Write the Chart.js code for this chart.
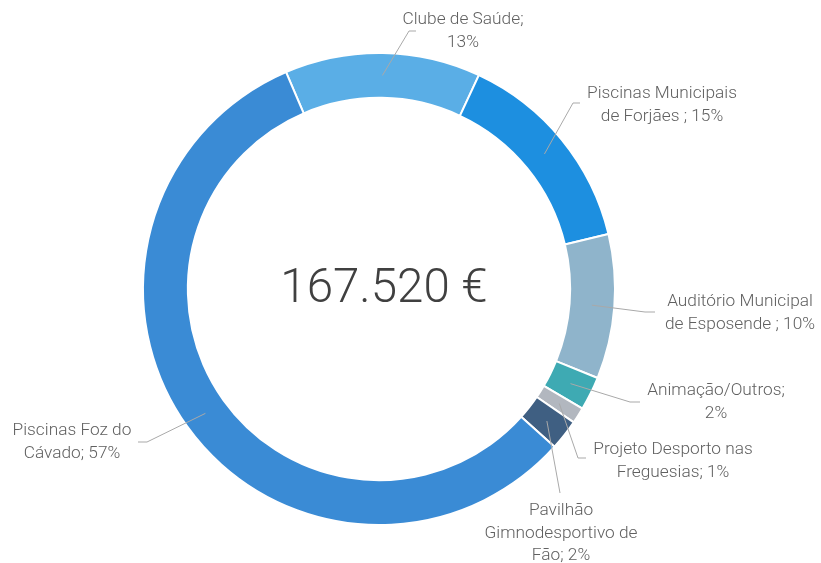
<!DOCTYPE html>
<html>
<head>
<meta charset="utf-8">
<script src="https://cdn.jsdelivr.net/npm/chart.js@4/dist/chart.umd.min.js"></script>
<style>
  html, body { margin: 0; padding: 0; background: #ffffff; }
  #wrap { width: 821px; height: 563px; }
</style>
</head>
<body>
<div id="wrap"><canvas id="c" width="821" height="563"></canvas></div>
<script>
// ---- data ----
const categories = [
  "Clube de Saúde",
  "Piscinas Municipais de Forjães",
  "Auditório Municipal de Esposende",
  "Animação/Outros",
  "Projeto Desporto nas Freguesias",
  "Pavilhão Gimnodesportivo de Fão",
  "Piscinas Foz do Cávado"
];
const values = [13.4, 14.3, 9.9, 2.3, 1.1, 2.1, 56.9];
const pctLabels = ["13%", "15%", "10%", "2%", "1%", "2%", "57%"];
const labelLines = [
  ["Clube de Saúde;", "13%"],
  ["Piscinas Municipais", "de Forjães ; 15%"],
  ["Auditório Municipal", "de Esposende ; 10%"],
  ["Animação/Outros;", "2%"],
  ["Projeto Desporto nas", "Freguesias; 1%"],
  ["Pavilhão", "Gimnodesportivo de", "Fão; 2%"],
  ["Piscinas Foz do", "Cávado; 57%"]
];
const totalLabel = "167.520 €";
const colors = ["#5aaee6", "#1d8fe0", "#8fb4cb", "#3eaab3", "#b2b7bf", "#3f5f82", "#3a8bd5"];

// ---- label layout (text centre of first line, elbow, end) ----
const labelLayout = [
  { tx: 463, ty: 20, elbow: [409, 31], end: [416, 31] },
  { tx: 662, ty: 94, elbow: [573, 103], end: [580, 103] },
  { tx: 740, ty: 302, elbow: [645, 312], end: [655, 312] },
  { tx: 716, ty: 391, elbow: [630, 402], end: [640, 402] },
  { tx: 673, ty: 450, elbow: [578, 458], end: [586, 458] },
  { tx: 561, ty: 511, elbow: [560, 493], end: [560, 493] },
  { tx: 72, ty: 431, elbow: [147, 442], end: [138, 442] }
];

const labelPlugin = {
  id: 'leaderLabels',
  afterDraw(chart) {
    const ctx = chart.ctx;
    const meta = chart.getDatasetMeta(0);
    ctx.save();
    meta.data.forEach((arc, i) => {
      const p = arc.tooltipPosition();
      const L = labelLayout[i];
      ctx.strokeStyle = '#a9a9a9';
      ctx.lineWidth = 1;
      ctx.beginPath();
      ctx.moveTo(p.x, p.y);
      ctx.lineTo(L.elbow[0], L.elbow[1]);
      ctx.lineTo(L.end[0], L.end[1]);
      ctx.stroke();
      ctx.fillStyle = '#606060';
      ctx.font = '300 17.3px Roboto, "Liberation Sans", sans-serif';
      ctx.textAlign = 'center';
      ctx.textBaseline = 'middle';
      labelLines[i].forEach((t, k) => ctx.fillText(t, L.tx, L.ty + k * 22.5));
    });
    const a0 = meta.data[0];
    ctx.fillStyle = '#404040';
    ctx.font = '300 47.5px Roboto, "Liberation Sans", sans-serif';
    ctx.textAlign = 'center';
    ctx.textBaseline = 'middle';
    ctx.fillText(totalLabel, a0.x + 5, a0.y + 1);
    ctx.restore();
  }
};

new Chart(document.getElementById('c'), {
  type: 'doughnut',
  data: {
    labels: categories,
    datasets: [{
      data: values,
      backgroundColor: colors,
      borderColor: '#ffffff',
      borderWidth: 2
    }]
  },
  options: {
    responsive: false,
    animation: false,
    rotation: -23.2,
    cutout: '81%',
    layout: { padding: { top: 52, bottom: 37, left: 100, right: 163 } },
    plugins: {
      legend: { display: false },
      tooltip: { enabled: false }
    }
  },
  plugins: [labelPlugin]
});
</script>
</body>
</html>
